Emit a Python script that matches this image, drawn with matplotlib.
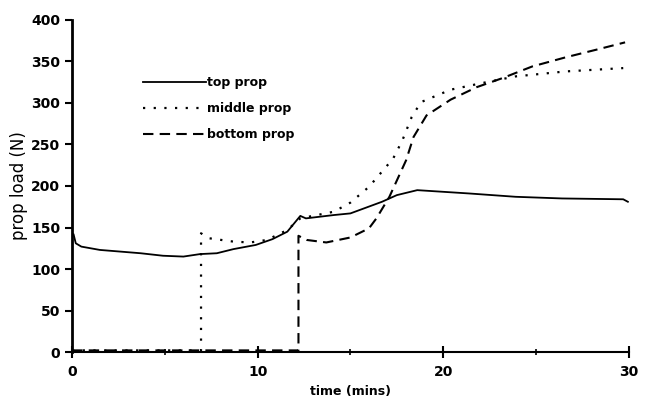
import matplotlib
matplotlib.use("Agg")
import matplotlib.pyplot as plt
from matplotlib.ticker import MultipleLocator

# values
top_t = [0, 0, 0.08, 0.2, 0.5, 1.5, 3.7, 4.9, 6.0, 6.9, 7.8, 8.7, 9.9, 10.8,
         11.6, 12.3, 12.6, 14.1, 15.0, 16.7, 17.5, 18.6, 21.4, 23.9, 26.4, 29.7, 29.95]
top_v = [0, 140, 142, 131, 127, 123, 119, 116, 115, 118, 119, 124, 129, 136,
         145, 164, 161, 165, 167, 181, 189, 195, 191, 187, 185, 184, 181]

middle_t = [0, 6.95, 6.95, 7.4, 8.7, 9.6, 10.5, 11.6, 12.3, 14.1, 15.0, 16.0,
            17.3, 17.8, 18.3, 18.8, 20.4, 22.1, 23.9, 26.6, 29.7]
middle_v = [2, 2, 143, 137, 133, 132, 135, 147, 161, 169, 180, 199,
            233, 255, 283, 301, 316, 324, 332, 338, 342]

bottom_t = [0, 12.2, 12.2, 12.65, 13.7, 15.0, 16.0, 16.4, 17.1, 18.0, 18.4,
            19.1, 20.4, 21.8, 23.2, 24.8, 26.6, 28.4, 29.8]
bottom_v = [2, 2, 140, 135, 132, 138, 149, 161, 187, 231, 259,
            285, 304, 319, 330, 344, 355, 365, 373]

labels = ["top prop", "middle prop", "bottom prop"]

fig = plt.figure(figsize=(6.55, 4.07), dpi=100)
ax = fig.add_axes([0.110, 0.135, 0.850, 0.816])

lw = 1.3
ax.plot(top_t, top_v, color="black", lw=lw, ls="-", label=labels[0])
ax.plot(middle_t, middle_v, color="black", lw=lw + 0.3, ls=(0, (1, 3.8)), label=labels[1])
ax.plot(bottom_t, bottom_v, color="black", lw=lw + 0.2, ls=(0, (5, 3)), label=labels[2])

ax.set_xlim(0, 30)
ax.set_ylim(0, 400)
ax.xaxis.set_major_locator(MultipleLocator(10))
ax.xaxis.set_minor_locator(MultipleLocator(5))
ax.yaxis.set_major_locator(MultipleLocator(50))

for s in ["top", "right"]:
    ax.spines[s].set_visible(False)
ax.spines["left"].set_linewidth(2)
ax.spines["bottom"].set_linewidth(1.5)

ax.tick_params(axis="y", direction="out", length=5, width=1.5, labelsize=10)
ax.tick_params(axis="x", which="major", direction="inout", length=8, width=1.5, labelsize=10, pad=5)
ax.tick_params(axis="x", which="minor", direction="inout", length=5, width=1.2)
for lab in ax.get_xticklabels() + ax.get_yticklabels():
    lab.set_fontweight("bold")

ax.set_xlabel("time (mins)", fontsize=9, fontweight="bold", labelpad=5)
ax.set_ylabel("prop load (N)", fontsize=12, labelpad=2)

leg = ax.legend(loc="upper left", bbox_to_anchor=(0.108, 0.865), frameon=False,
                handlelength=5.0, handletextpad=0.1, labelspacing=1.05,
                prop={"size": 9, "weight": "bold"})

fig.savefig("out.png", dpi=100)
